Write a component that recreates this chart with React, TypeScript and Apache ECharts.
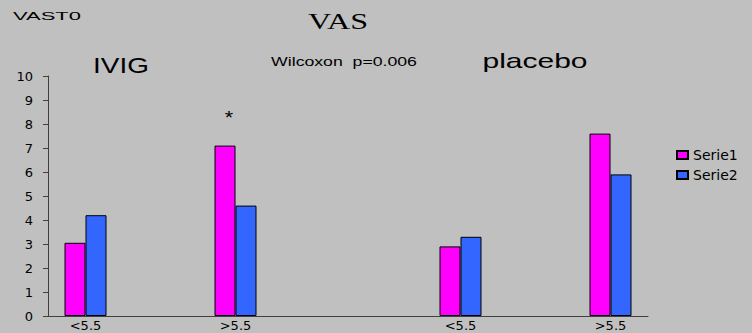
import React, { useEffect, useRef } from "react";
import * as echarts from "echarts";

const categories = ["<5.5", "", ">5.5", "", "", "<5.5", "", ">5.5"];
const serie1 = [3.05, null, 7.1, null, null, 2.9, null, 7.6];
const serie2 = [4.2, null, 4.6, null, null, 3.3, null, 5.9];
const seriesNames = ["Serie1", "Serie2"];
const yTicks = { min: 0, max: 10, interval: 1 };

export default function App() {
  const ref = useRef<HTMLDivElement>(null);
  useEffect(() => {
    if (!ref.current) return;
    const chart = echarts.init(ref.current, null, { renderer: "svg" });
    const sans = "Liberation Sans, Arial, sans-serif";
    chart.setOption({
      animation: false,
      backgroundColor: "#c0c0c0",
      grid: { left: 48, right: 104, top: 76, bottom: 17, containLabel: false },
      legend: {
        orient: "vertical",
        left: 671,
        top: 143,
        itemWidth: 11,
        itemHeight: 8,
        itemGap: 6,
        icon: "rect",
        textStyle: { fontFamily: "DejaVu Sans", fontSize: 14, color: "#000", lineHeight: 14 },
        data: seriesNames,
      },
      xAxis: {
        type: "category",
        data: categories,
        boundaryGap: true,
        axisLine: { lineStyle: { color: "#404040", width: 1 } },
        axisTick: { show: false },
        axisLabel: {
          interval: 0,
          margin: 3,
          color: "#000",
          fontFamily: "DejaVu Sans",
          fontSize: 13,
        },
        splitLine: { show: false },
      },
      yAxis: {
        type: "value",
        min: yTicks.min,
        max: yTicks.max,
        interval: yTicks.interval,
        axisLine: { show: true, lineStyle: { color: "#404040", width: 1 } },
        axisTick: { show: true, length: 5, lineStyle: { color: "#404040" } },
        axisLabel: {
          margin: 15,
          color: "#000",
          fontFamily: "DejaVu Sans",
          fontSize: 13,
        },
        splitLine: { show: false },
      },
      series: [
        {
          name: seriesNames[0],
          type: "bar",
          data: serie1,
          barWidth: 21,
          barGap: "0%",
          itemStyle: { color: "#ff00ff", borderColor: "#000", borderWidth: 1 },
        },
        {
          name: seriesNames[1],
          type: "bar",
          data: serie2,
          barWidth: 21,
          barGap: "0%",
          itemStyle: { color: "#3366ff", borderColor: "#000", borderWidth: 1 },
        },
      ],
      graphic: [
        {
          type: "text",
          x: 13,
          y: 17,
          scaleX: 2.2,
          style: {
            text: "VAST0",
            font: "10px " + sans,
            fill: "#000",
            align: "left",
            verticalAlign: "middle",
          },
        },
        {
          type: "text",
          x: 338,
          y: 21,
          scaleX: 1.4,
          style: {
            text: "VAS",
            font: "23px 'Liberation Serif', 'Times New Roman', serif",
            fill: "#000",
            align: "center",
            verticalAlign: "middle",
          },
        },
        {
          type: "text",
          x: 121,
          y: 65,
          scaleX: 1.27,
          style: {
            text: "IVIG",
            font: "22px " + sans,
            fill: "#000",
            align: "center",
            verticalAlign: "middle",
          },
        },
        {
          type: "text",
          x: 344,
          y: 61.5,
          scaleX: 1.36,
          style: {
            text: "Wilcoxon  p=0.006",
            font: "13px " + sans,
            fill: "#000",
            align: "center",
            verticalAlign: "middle",
          },
        },
        {
          type: "text",
          x: 535,
          y: 61,
          scaleX: 1.5,
          style: {
            text: "placebo",
            font: "20px " + sans,
            fill: "#000",
            align: "center",
            verticalAlign: "middle",
          },
        },
        {
          type: "text",
          x: 229,
          y: 118,
          scaleX: 1.2,
          style: {
            text: "*",
            font: "18px " + sans,
            fill: "#000",
            align: "center",
            verticalAlign: "middle",
          },
        },
      ],
    });
    return () => chart.dispose();
  }, []);
  return (
    <div
      ref={ref}
      style={{ position: "absolute", left: 0, top: 0, width: 752, height: 333 }}
    />
  );
}
